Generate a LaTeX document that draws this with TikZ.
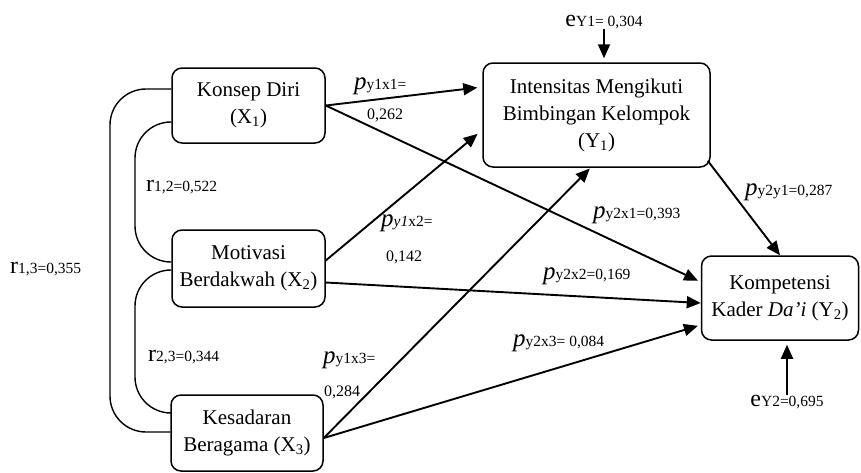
\documentclass[tikz,border=0pt]{standalone}
\usepackage{fontspec}
\setmainfont{Liberation Serif}
\usetikzlibrary{arrows.meta}
\newcommand\pcoef[1]{{\fontsize{25}{25}\selectfont\itshape p}{\fontsize{15.5}{16}\selectfont #1}}
\newcommand\rcoef[1]{{\fontsize{24}{24}\selectfont r}{\fontsize{15.5}{16}\selectfont #1}}
\newcommand\ecoef[1]{{\fontsize{24}{24}\selectfont e}{\fontsize{15.5}{16}\selectfont #1}}
\begin{document}
\begin{tikzpicture}[x=1pt, y=-1pt,
    varbox/.style = {draw, line width=1.5pt, rounded corners=10pt, align=center, inner sep=0pt,
                     font=\fontsize{21}{27}\selectfont},
    path/.style = {line width=1.9pt, -{Triangle[length=14pt, width=12pt]}},
    corr/.style = {line width=1.4pt, rounded corners=36pt},
    coef/.style = {inner sep=0pt, anchor=west}]

    \useasboundingbox (0,0) rectangle (861,472);

    \node [varbox, minimum width=153pt, minimum height=75pt] (x1) at (248.5,105.5) {Konsep Diri\\(X\textsubscript{1})};
    \node [varbox, minimum width=153pt, minimum height=77pt] (x2) at (248.5,268.5) {Motivasi\\Berdakwah (X\textsubscript{2})};
    \node [varbox, minimum width=152pt, minimum height=76pt] (x3) at (247,433) {Kesadaran\\Beragama (X\textsubscript{3})};
    \node [varbox, minimum width=227pt, minimum height=104pt] (y1) at (596.5,115) {Intensitas Mengikuti\\Bimbingan Kelompok\\(Y\textsubscript{1})};
    \node [varbox, minimum width=157pt, minimum height=84pt] (y2) at (780,298) {Kompetensi\\Kader \textit{Da’i} (Y\textsubscript{2})};

    \node [inner sep=0pt] (ey1) at (604,22) {\ecoef{Y1= 0,304}};
    \node [inner sep=0pt] (ey2) at (787,402) {\ecoef{Y2=0,695}};

    \draw [path, shorten >=4pt] (ey1.south) -- (ey1.south |- y1.north);
    \draw [path, shorten >=4pt] (ey2.north) -- (ey2.north |- y2.south);

    \draw [path, shorten >=5pt] (x1.east) -- ([yshift=28pt]y1.west);
    \draw [path, shorten >=3pt] (x1.east) -- ([yshift=16pt]y2.west);
    \draw [path, shorten >=6pt] ([yshift=8pt]x2.east) -- ([yshift=-15pt]y1.west);
    \draw [path] ([yshift=-14pt]x2.east) -- ([yshift=-5pt]y2.west);
    \draw [path, shorten >=1pt] ([yshift=-5pt]x3.east) -- ([xshift=-6pt]y1.south);
    \draw [path, shorten >=3pt] ([yshift=-5pt]x3.east) -- ([yshift=-27pt]y2.west);
    \draw [path] ([xshift=-3pt,yshift=7pt]y1.south east) -- (y2.north);

    \draw [corr] ([yshift=16.5pt]x1.west) -| (110,268) |- ([yshift=1pt]x3.west);
    \draw [corr] ([yshift=-16.5pt]x1.west) -| (135,190) |- ([yshift=6.5pt]x2.west);
    \draw [corr] ([yshift=-1.5pt]x2.west) -| (135,340) |- ([yshift=20pt]x3.west);

    \node [coef] (r12) at (146,187) {\rcoef{1,2=0,522}};
    \node [coef] (r23) at (148,357) {\rcoef{2,3=0,344}};
    \node [coef] (r13) at (10,269) {\rcoef{1,3=0,355}};

    \node [coef] (p11) at (354,86) {\pcoef{y1x1=}};
    \node [inner sep=0pt, font=\fontsize{16}{16}\selectfont] (v11) at (385,115) {0,262};
    \node [coef] (p12) at (381,223) {\pcoef{\textit{y1}x2=}};
    \node [inner sep=0pt, font=\fontsize{16}{16}\selectfont] (v12) at (404,257) {0,142};
    \node [coef] (p13) at (323,360) {\pcoef{y1x3=}};
    \node [inner sep=0pt, font=\fontsize{16}{16}\selectfont] (v13) at (342,392) {0,284};
    \node [coef] (p21) at (593,215) {\pcoef{y2x1=0,393}};
    \node [coef] (p22) at (543,276) {\pcoef{y2x2=0,169}};
    \node [coef] (p23) at (513,343) {\pcoef{y2x3= 0,084}};
    \node [coef] (p2y) at (745,192) {\pcoef{y2y1=0,287}};

\end{tikzpicture}
\end{document}
